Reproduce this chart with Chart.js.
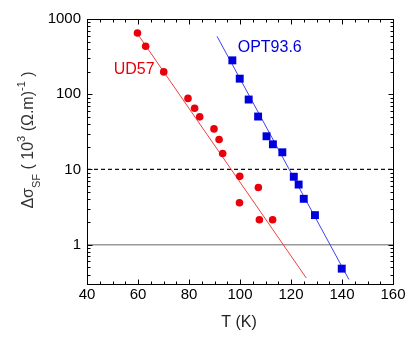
<!DOCTYPE html>
<html>
<head>
<meta charset="utf-8">
<script src="https://cdn.jsdelivr.net/npm/chart.js@4.4.0/dist/chart.umd.min.js"></script>
<style>
  html, body { margin: 0; padding: 0; background: #fff; }
</style>
</head>
<body>
<canvas id="chart" width="414" height="338"></canvas>
<script>
// UD57 sample (red circles)
const udT = [59.8, 63.0, 70.1, 79.6, 82.2, 84.2, 89.8, 91.8, 93.2, 99.9, 107.2, 99.8, 107.6, 112.8];
const udVal = [650, 435, 198, 88, 65, 50, 34.6, 25, 16.3, 8.1, 5.75, 3.6, 2.14, 2.14];
// OPT93.6 sample (blue squares)
const optT = [97.0, 99.9, 103.4, 107.1, 110.4, 112.9, 116.6, 121.1, 123.0, 125.0, 129.4, 139.9];
const optVal = [282, 161, 85, 50.5, 27.6, 21.6, 16.9, 8.0, 6.3, 4.07, 2.47, 0.48];
// straight fit lines (end points)
const udFitT = [60, 126];
const udFitVal = [620, 0.36];
const optFitT = [91, 142.7];
const optFitVal = [588, 0.345];
// reference levels
const dashLevel = 10;
const solidLevel = 1;
const xRange = [40, 160];
const yRange = [0.3, 1000];
const xTicks = [40, 60, 80, 100, 120, 140, 160];
const yTicks = [1, 10, 100, 1000];

const FONT = "'Liberation Sans', Arial, sans-serif";

function pts(xs, ys) {
    return xs.map((x, i) => ({ x: x, y: ys[i] }));
}

const frame = {
    id: 'frame',
    afterDraw(chart) {
        const { ctx, chartArea: a, scales: { x, y } } = chart;
        ctx.save();
        ctx.strokeStyle = '#000';
        ctx.lineWidth = 1;
        const L = Math.round(a.left) + 0.5, R = Math.round(a.right) + 0.5;
        const T = Math.round(a.top) + 0.5, B = Math.round(a.bottom) + 0.5;
        ctx.strokeRect(L, T, R - L, B - T);

        ctx.beginPath();
        // x ticks, bottom and top, pointing inward
        for (let v = xRange[0]; v <= xRange[1]; v += 5) {
            const px = Math.round(x.getPixelForValue(v)) + 0.5;
            const len = v % 20 === 0 ? 5 : 3;
            ctx.moveTo(px, B); ctx.lineTo(px, B - len);
            ctx.moveTo(px, T); ctx.lineTo(px, T + len);
        }
        // y ticks, left and right
        for (let d = 0.1; d <= 1000; d *= 10) {
            for (let m = 1; m <= 9; m++) {
                const v = d * m;
                if (v < yRange[0] - 1e-9 || v > yRange[1] + 1e-9) continue;
                const py = Math.round(y.getPixelForValue(v)) + 0.5;
                const len = m === 1 ? 5 : 3;
                ctx.moveTo(L, py); ctx.lineTo(L + len, py);
                ctx.moveTo(R, py); ctx.lineTo(R - len, py);
            }
        }
        ctx.stroke();

        // series labels
        ctx.font = '16px ' + FONT;
        ctx.textBaseline = 'middle';
        ctx.fillStyle = '#e8000b';
        ctx.textAlign = 'right';
        ctx.fillText('UD57', x.getPixelForValue(66.5), y.getPixelForValue(212));
        ctx.fillStyle = '#0000dd';
        ctx.textAlign = 'left';
        ctx.fillText('OPT93.6', x.getPixelForValue(99.1), y.getPixelForValue(416));

        // x title
        ctx.fillStyle = '#222';
        ctx.textAlign = 'center';
        ctx.textBaseline = 'alphabetic';
        ctx.font = '16px ' + FONT;
        ctx.fillText('T (K)', (a.left + a.right) / 2 - 1, 327);

        // y title with sub/superscripts
        const parts = [
            { t: 'Δσ', s: 16, dy: 0 },
            { t: 'SF', s: 11, dy: 7 },
            { t: ' ( 10', s: 16, dy: 0 },
            { t: '3', s: 11, dy: -8 },
            { t: ' (Ω.m)', s: 16, dy: 0 },
            { t: '-1', s: 11, dy: -8 },
            { t: ' )', s: 16, dy: 0 }
        ];
        let w = 0;
        parts.forEach(p => { ctx.font = p.s + 'px ' + FONT; p.w = ctx.measureText(p.t).width; w += p.w; });
        ctx.translate(33, 140);
        ctx.rotate(-Math.PI / 2);
        ctx.textAlign = 'left';
        ctx.fillStyle = '#333';
        let cx = -w / 2;
        parts.forEach(p => {
            ctx.font = p.s + 'px ' + FONT;
            ctx.fillText(p.t, cx, p.dy);
            cx += p.w;
        });
        ctx.restore();
    }
};

new Chart('chart', {
    type: 'scatter',
    data: {
        datasets: [
            {
                data: pts(udT, udVal),
                pointStyle: 'circle',
                pointRadius: 3.8,
                backgroundColor: '#e8000b',
                borderColor: '#e8000b',
                borderWidth: 0,
                order: 1
            },
            {
                data: pts(optT, optVal),
                pointStyle: 'rect',
                pointRadius: 5.6,
                backgroundColor: '#0000dd',
                borderColor: '#0000dd',
                borderWidth: 0,
                order: 1
            },
            {
                data: pts(udFitT, udFitVal),
                showLine: true,
                pointRadius: 0,
                borderColor: '#f04040',
                borderWidth: 1,
                order: 2
            },
            {
                data: pts(optFitT, optFitVal),
                showLine: true,
                pointRadius: 0,
                borderColor: '#4040f0',
                borderWidth: 1,
                order: 2
            },
            {
                data: pts(xRange, [dashLevel, dashLevel]),
                showLine: true,
                pointRadius: 0,
                borderColor: '#111',
                borderWidth: 1.2,
                borderDash: [4, 3],
                order: 3
            },
            {
                data: pts(xRange, [solidLevel, solidLevel]),
                showLine: true,
                pointRadius: 0,
                borderColor: '#999',
                borderWidth: 1.5,
                order: 3
            }
        ]
    },
    options: {
        responsive: false,
        animation: false,
        devicePixelRatio: 1,
        layout: { padding: { top: 19, right: 21, left: 0, bottom: 0 } },
        plugins: {
            legend: { display: false },
            tooltip: { enabled: false }
        },
        scales: {
            x: {
                type: 'linear',
                min: xRange[0],
                max: xRange[1],
                grid: { display: false, drawTicks: false },
                border: { display: false },
                afterBuildTicks: s => { s.ticks = xTicks.map(v => ({ value: v })); },
                afterFit: s => { s.height = 54; },
                ticks: {
                    padding: 2,
                    color: '#000',
                    maxRotation: 0,
                    font: { family: FONT, size: 15 },
                    callback: v => String(v)
                }
            },
            y: {
                type: 'logarithmic',
                min: yRange[0],
                max: yRange[1],
                grid: { display: false, drawTicks: false },
                border: { display: false },
                afterBuildTicks: s => { s.ticks = yTicks.map(v => ({ value: v })); },
                afterFit: s => { s.width = 87; },
                ticks: {
                    padding: 6,
                    color: '#000',
                    font: { family: FONT, size: 15 },
                    callback: v => String(v)
                }
            }
        }
    },
    plugins: [frame]
});
</script>
</body>
</html>
